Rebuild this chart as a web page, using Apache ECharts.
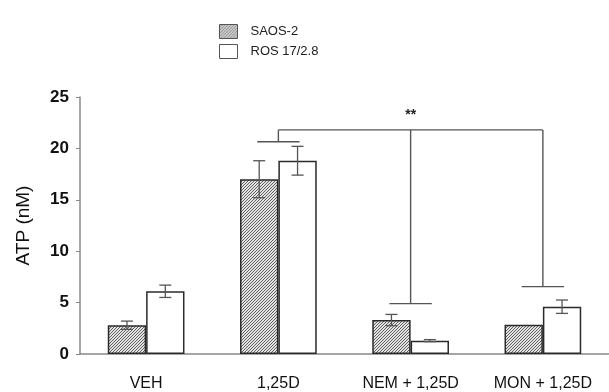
<!DOCTYPE html>
<html>
<head>
<meta charset="utf-8">
<script src="https://cdn.jsdelivr.net/npm/echarts@6/dist/echarts.min.js"></script>
<style>
  html, body { margin: 0; padding: 0; background: #fff; }
  #chart { width: 609px; height: 392px; }
</style>
</head>
<body>
<div id="chart"></div>
<script>
var categories = ['VEH', '1,25D', 'NEM + 1,25D', 'MON + 1,25D'];
var saos = [2.8, 17.0, 3.3, 2.85];
var saosErr = [0.4, 1.8, 0.55, 0];
var ros = [6.1, 18.8, 1.3, 4.6];
var rosErr = [0.6, 1.4, 0.1, 0.65];
var yTicks = [0, 5, 10, 15, 20, 25];

// significance bracket: drops [category, level], joined at top
var bracketTop = 21.8;
var bracketDrops = [[1, 20.65], [2, 4.9], [3, 6.55]];
var bracketMark = '**';

// hatch pattern
var pc = document.createElement('canvas');
pc.width = 3; pc.height = 3;
var pctx = pc.getContext('2d');
pctx.fillStyle = '#e2e2e2';
pctx.fillRect(0, 0, 3, 3);
pctx.strokeStyle = '#555';
pctx.lineWidth = 0.9;
pctx.beginPath();
pctx.moveTo(0, 3); pctx.lineTo(3, 0);
pctx.moveTo(-1, 1); pctx.lineTo(1, -1);
pctx.moveTo(2, 4); pctx.lineTo(4, 2);
pctx.stroke();

var chart = echarts.init(document.getElementById('chart'));
var BARW = 0.29;
var FONT = 'Liberation Sans, Arial, sans-serif';

function errSeries(vals, errs, side) {
  var data = vals.map(function (v, i) { return [i, v, errs[i]]; });
  return {
    type: 'custom',
    z: 5,
    data: data,
    renderItem: function (params, api) {
      var e = api.value(2);
      if (!e) return null;
      var band = api.size([1, 0])[0];
      var c = api.coord([api.value(0), api.value(1)]);
      var x = c[0] + side * band * BARW / 2;
      var hi = api.coord([api.value(0), api.value(1) + e])[1];
      var lo = api.coord([api.value(0), api.value(1) - e])[1];
      var w = 6;
      var st = { stroke: '#555', lineWidth: 1.3 };
      return {
        type: 'group',
        children: [
          { type: 'line', shape: { x1: x, y1: hi, x2: x, y2: lo }, style: st },
          { type: 'line', shape: { x1: x - w, y1: hi, x2: x + w, y2: hi }, style: st },
          { type: 'line', shape: { x1: x - w, y1: lo, x2: x + w, y2: lo }, style: st }
        ]
      };
    }
  };
}

var option = {
  animation: false,
  backgroundColor: '#fff',
  textStyle: { fontFamily: FONT },
  legend: {
    orient: 'vertical',
    left: 214,
    top: 19,
    itemWidth: 18,
    itemHeight: 14,
    itemGap: 5,
    icon: 'rect',
    itemStyle: { borderColor: '#555', borderWidth: 1 },
    textStyle: { fontSize: 13, color: '#222', padding: [0, 0, 0, 8] },
    data: ['SAOS-2', 'ROS 17/2.8']
  },
  grid: { left: 80, top: 97, width: 536, height: 257 },
  xAxis: {
    type: 'category',
    data: categories,
    axisLine: { lineStyle: { color: '#888', width: 1.5 } },
    axisTick: { length: 4, lineStyle: { color: '#888' } },
    axisLabel: { fontSize: 16, color: '#111', margin: 22 }
  },
  yAxis: {
    type: 'value',
    min: yTicks[0],
    max: yTicks[yTicks.length - 1],
    interval: 5,
    name: 'ATP (nM)',
    nameLocation: 'middle',
    nameGap: 47,
    nameTextStyle: { fontSize: 19, color: '#111' },
    splitLine: { show: false },
    axisLine: { show: true, lineStyle: { color: '#888', width: 1.5 } },
    axisTick: { show: true, length: 4, lineStyle: { color: '#888' } },
    axisLabel: { fontSize: 17, fontWeight: 'bold', color: '#111', margin: 11 }
  },
  series: [
    {
      name: 'SAOS-2',
      type: 'bar',
      data: saos,
      barWidth: (BARW * 100) + '%',
      barGap: '0%',
      itemStyle: { color: { image: pc, repeat: 'repeat' }, borderColor: '#2a2a2a', borderWidth: 1.5 }
    },
    {
      name: 'ROS 17/2.8',
      type: 'bar',
      data: ros,
      barWidth: (BARW * 100) + '%',
      barGap: '0%',
      itemStyle: { color: '#fff', borderColor: '#2a2a2a', borderWidth: 1.5 }
    },
    errSeries(saos, saosErr, -1),
    errSeries(ros, rosErr, 1),
    {
      type: 'custom',
      z: 6,
      data: bracketDrops,
      renderItem: function (params, api) {
        var band = api.size([1, 0])[0];
        var p = api.coord([api.value(0), api.value(1)]);
        var top = api.coord([api.value(0), bracketTop])[1];
        var hw = band * 0.16;
        var st = { stroke: '#555', lineWidth: 1.4 };
        var kids = [
          { type: 'line', shape: { x1: p[0], y1: p[1], x2: p[0], y2: top }, style: st },
          { type: 'line', shape: { x1: p[0] - hw, y1: p[1], x2: p[0] + hw, y2: p[1] }, style: st }
        ];
        if (params.dataIndex === 0) {
          var last = bracketDrops[bracketDrops.length - 1];
          var end = api.coord([last[0], bracketTop]);
          kids.push({ type: 'line', shape: { x1: p[0], y1: top, x2: end[0], y2: top }, style: st });
        }
        if (params.dataIndex === 1) {
          kids.push({
            type: 'text',
            style: {
              text: bracketMark, x: p[0], y: top - 8,
              align: 'center', verticalAlign: 'bottom',
              fontSize: 14, fontWeight: 'bold', fill: '#222',
              fontFamily: FONT
            }
          });
        }
        return { type: 'group', children: kids };
      }
    }
  ]
};

chart.setOption(option);
</script>
</body>
</html>
